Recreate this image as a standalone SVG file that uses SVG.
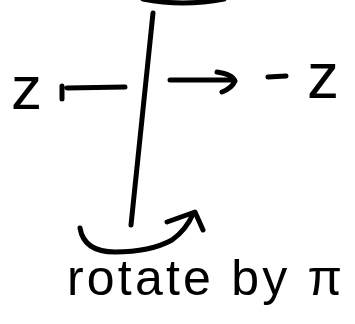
<svg xmlns="http://www.w3.org/2000/svg" width="355" height="324" viewBox="0 0 355 324">
<style>
.s{fill:none;stroke:#000;stroke-width:5;stroke-linecap:round;stroke-linejoin:round}
.t{font-family:"Liberation Sans",sans-serif;fill:#000}
</style>
<rect width="355" height="324" fill="#fff"/>
<g id="axis">
<path class="s" d="M143,-1 Q183,7 224,-1"/>
<path class="s" d="M153,13 L131,225"/>
</g>
<g id="left">
<text class="t" x="11" y="109" font-size="62">z</text>
<path class="s" d="M62,86 L62,99 M67,88 L125,87"/>
</g>
<g id="right">
<path class="s" d="M170,80 L233,80 M217,72 Q232,74 235,81 Q232,88 222,92"/>
<path class="s" d="M268,77 L286,76"/>
<text class="t" x="307" y="98" font-size="64">z</text>
</g>
<g id="rotation">
<path class="s" d="M80,228 Q84,252 115,252 Q150,252 172,240 Q186,230 193,214"/>
<path class="s" d="M167,222 L195,212 L203,230"/>
<text class="t" x="67" y="295" font-size="50" textLength="275" lengthAdjust="spacing">rotate by π</text>
</g>
</svg>
